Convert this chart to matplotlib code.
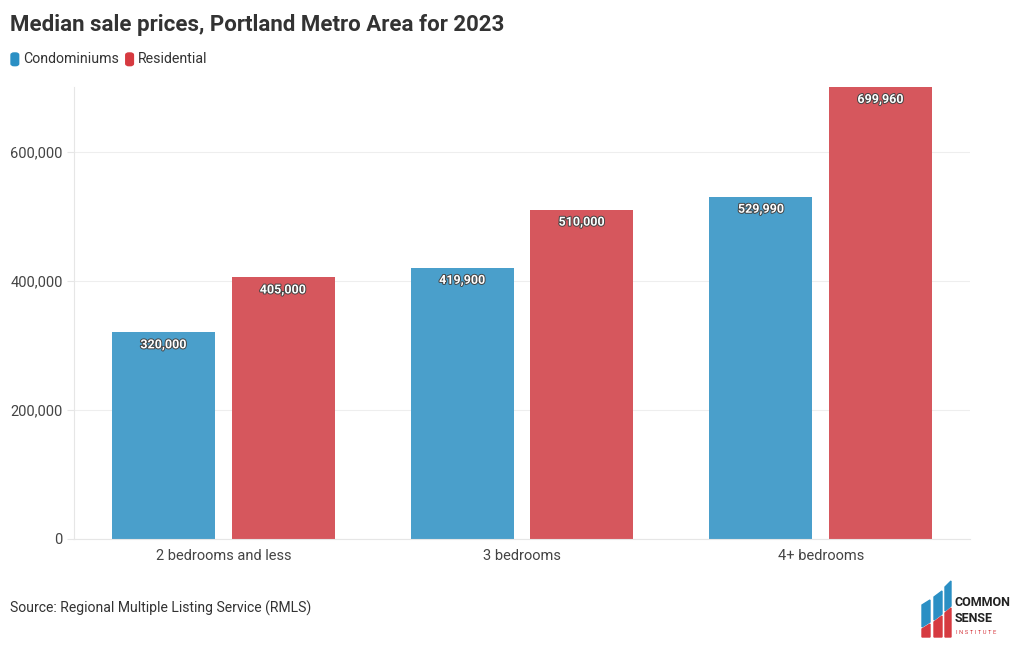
import numpy as np
import matplotlib
matplotlib.use("Agg")
import matplotlib.pyplot as plt
import matplotlib.patheffects as pe
from matplotlib.patches import Polygon, FancyBboxPatch
from matplotlib.ticker import FuncFormatter

plt.rcParams['font.family'] = ['Roboto', 'DejaVu Sans']

categories = ["2 bedrooms and less", "3 bedrooms", "4+ bedrooms"]
condo = [320000, 419900, 529990]
residential = [405000, 510000, 699960]
series_names = ["Condominiums", "Residential"]

BLUE = "#4a9fcb"
RED = "#d6575d"
TXT = "#333333"

fig = plt.figure(figsize=(10.2, 6.5), dpi=100)
ax = fig.add_axes([0.0725, 0.1708, 0.8785, 0.6954])

x = np.arange(len(categories))
w = 0.345
b1 = ax.bar(x - 0.2, condo, w, color=BLUE, zorder=2)
b2 = ax.bar(x + 0.2, residential, w, color=RED, zorder=2)

for bars in (b1, b2):
    for r in bars:
        v = r.get_height()
        ax.annotate(f"{v:,.0f}", (r.get_x() + r.get_width() / 2, v),
                    xytext=(0, -9), textcoords="offset points",
                    ha="center", va="center", color="white",
                    fontsize=9, fontweight="bold", zorder=3,
                    path_effects=[pe.withStroke(linewidth=1.4, foreground="#444444")])

ax.set_xlim(-0.5, 2.5)
ax.set_ylim(0, 700000)
ax.set_yticks([0, 200000, 400000, 600000])
ax.yaxis.set_major_formatter(FuncFormatter(lambda v, p: f"{v:,.0f}"))
ax.set_xticks(x)
ax.set_xticklabels(categories)
ax.grid(axis="y", color="#eeeeee", lw=0.8, zorder=0)
ax.set_axisbelow(True)
for s in ("top", "right"):
    ax.spines[s].set_visible(False)
ax.spines["left"].set_color("#e6e6e6")
ax.spines["bottom"].set_color("#e6e6e6")
ax.tick_params(axis="y", length=5, color="#e6e6e6", labelsize=10.5, labelcolor="#444444", pad=3)
ax.tick_params(axis="x", length=0, labelsize=10.5, labelcolor="#444444", pad=7)

fig.text(0.0098, 0.962, "Median sale prices, Portland Metro Area for 2023",
         fontsize=16, fontweight="bold", color=TXT, va="center")

# legend
lx = 0.0108
for name, col in zip(series_names, ["#2a8fc4", "#d63a40"]):
    fig.patches.append(FancyBboxPatch((lx, 0.899), 0.0075, 0.0195,
                                      boxstyle="round,pad=0,rounding_size=0.003",
                                      transform=fig.transFigure, color=col))
    t = fig.text(lx + 0.0115, 0.909, name, fontsize=10.2, color=TXT, va="center")
    fig.canvas.draw()
    bb = t.get_window_extent()
    lx = bb.x1 / 1020 + 0.007

fig.text(0.0098, 0.064, "Source: Regional Multiple Listing Service (RMLS)",
         fontsize=10.1, color=TXT, va="center")

# logo
def P(pts, col):
    fig.patches.append(Polygon([(px / 1020, 1 - py / 650) for px, py in pts],
                               closed=True, transform=fig.transFigure, color=col))
LB, LR = "#2a8fc4", "#d63a40"
P([(922, 605), (930, 600), (930, 622), (922, 627)], LB)
P([(934, 597), (942, 591), (942, 614), (934, 620)], LB)
P([(945, 587), (951, 581), (951, 606), (945, 611)], LB)
P([(922, 629), (930, 624), (930, 637), (922, 637)], LR)
P([(934, 622), (942, 616), (942, 637), (934, 637)], LR)
P([(945, 613), (951, 608), (951, 637), (945, 637)], LR)
fig.text(955 / 1020, 1 - 602 / 650, "COMMON", fontsize=9, fontweight="bold",
         color="#222222", va="center")
fig.text(955 / 1020, 1 - 619 / 650, "SENSE", fontsize=9, fontweight="bold",
         color="#222222", va="center")
fig.text(956 / 1020, 1 - 632 / 650, "I N S T I T U T E", fontsize=4.2,
         color=LR, va="center")

fig.savefig("out.png", dpi=100)
